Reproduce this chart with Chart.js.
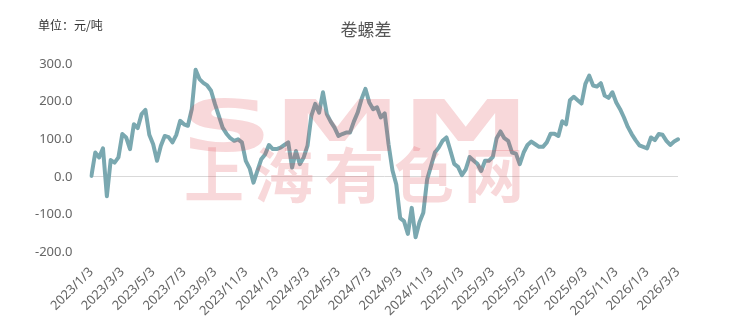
<!DOCTYPE html>
<html>
<head>
<meta charset="utf-8">
<script src="https://cdn.jsdelivr.net/npm/chart.js@4"></script>
<style>
    html, body { margin: 0; padding: 0; background: #fff; }
    #wrap { width: 732px; height: 327px; }
</style>
</head>
<body>
<div id="wrap"><canvas id="spread-chart"></canvas></div>
<script>
const titleText = '卷螺差';
const unitText = '单位：元/吨';
const seriesName = '卷螺差';

// one label every 8 points
const tickLabels = [
    '2023/1/3', '2023/3/3', '2023/5/3', '2023/7/3', '2023/9/3', '2023/11/3',
    '2024/1/3', '2024/3/3', '2024/5/3', '2024/7/3', '2024/9/3', '2024/11/3',
    '2025/1/3', '2025/3/3', '2025/5/3', '2025/7/3', '2025/9/3', '2025/11/3',
    '2026/1/3', '2026/3/3'
];
const pointsPerTick = 8;

const spreadValues = [
    3, 65, 52, 76, -51, 45, 38, 52,
    114, 105, 74, 140, 130, 167, 178, 112,
    87, 43, 83, 109, 106, 92, 112, 149,
    140, 136, 180, 285, 260, 250, 243, 229,
    194, 163, 131, 115, 103, 96, 100, 92,
    43, 23, -15, 16, 47, 60, 85, 74,
    74, 78, 85, 92, 25, 69, 34, 52,
    83, 163, 194, 171, 225, 167, 147, 131,
    109, 114, 118, 118, 147, 171, 207, 234,
    198, 180, 185, 158, 169, 87, 18, -20,
    -109, -117, -151, -82, -160, -120, -95, -6,
    29, 65, 78, 96, 105, 71, 35, 27,
    5, 20, 53, 44, 35, 16, 43, 43,
    53, 103, 121, 103, 96, 65, 62, 34,
    65, 85, 94, 87, 80, 80, 92, 115,
    115, 109, 148, 140, 204, 213, 204, 195,
    247, 269, 243, 240, 249, 216, 210, 225,
    198, 180, 158, 133, 114, 98, 84, 80,
    76, 105, 98, 114, 112, 96, 85, 94,
    100
];

const yTicks = [-200, -100, 0, 100, 200, 300];

const categories = spreadValues.map((v, i) =>
    i % pointsPerTick === 0 ? (tickLabels[i / pointsPerTick] || '') : '');

const overlay = {
    id: 'overlay',
    afterDatasetsDraw(chart) {
        const ctx = chart.ctx;
        ctx.save();
        ctx.fillStyle = 'rgba(222, 62, 68, 0.2)';
        // SMM block letters
        ctx.font = 'bold 72px "DejaVu Sans"';
        ctx.textBaseline = 'alphabetic';
        const w = ctx.measureText('SMM').width;
        ctx.translate(180, 151);
        ctx.scale(350 / w, 1);
        ctx.fillText('SMM', 0, 0);
        ctx.restore();

        ctx.save();
        ctx.fillStyle = 'rgba(222, 62, 68, 0.2)';
        ctx.font = 'bold 60px "Noto Sans CJK SC"';
        ctx.textAlign = 'center';
        ctx.textBaseline = 'middle';
        '上海有色网'.split('').forEach((ch, k) => {
            ctx.fillText(ch, 214 + 70 * k, 175);
        });
        ctx.restore();
    },
    afterDraw(chart) {
        const ctx = chart.ctx;
        ctx.save();
        ctx.fillStyle = '#333';
        ctx.font = '12px "Noto Sans CJK SC"';
        ctx.textBaseline = 'middle';
        ctx.fillText(unitText, 38, 25);

        ctx.fillStyle = '#555';
        ctx.font = '17px "Noto Sans CJK SC"';
        ctx.textAlign = 'center';
        ctx.fillText(titleText, 366, 30);
        ctx.restore();
    }
};

const ctx = document.getElementById('spread-chart').getContext('2d');
const chart = new Chart(ctx, {
    type: 'line',
    data: {
        labels: categories,
        datasets: [{
            label: seriesName,
            data: spreadValues,
            borderColor: '#7aa8b0',
            borderWidth: 4,
            pointRadius: 0,
            tension: 0,
            borderJoinStyle: 'round',
            borderCapStyle: 'round'
        }]
    },
    options: {
        responsive: true,
        maintainAspectRatio: false,
        animation: false,
        layout: {
            padding: { top: 64, right: 54, bottom: 4, left: 16 }
        },
        plugins: {
            legend: { display: false },
            tooltip: { enabled: false },
            title: { display: false }
        },
        scales: {
            x: {
                grid: { display: false },
                border: { display: false },
                ticks: {
                    autoSkip: false,
                    minRotation: 45,
                    maxRotation: 45,
                    color: '#666',
                    padding: 4,
                    font: { family: '"Noto Sans"', size: 13 }
                }
            },
            y: {
                min: -200,
                max: 300,
                afterBuildTicks: axis => {
                    axis.ticks = yTicks.map(v => ({ value: v }));
                },
                border: { display: false },
                grid: {
                    drawTicks: false,
                    color: c => c.tick && c.tick.value === 0 ? '#d9d9d9' : 'rgba(0,0,0,0)'
                },
                ticks: {
                    color: '#666',
                    padding: 19,
                    font: { family: '"Noto Sans"', size: 13 },
                    callback: v => Number(v).toFixed(1)
                }
            }
        }
    },
    plugins: [overlay]
});
</script>
</body>
</html>
